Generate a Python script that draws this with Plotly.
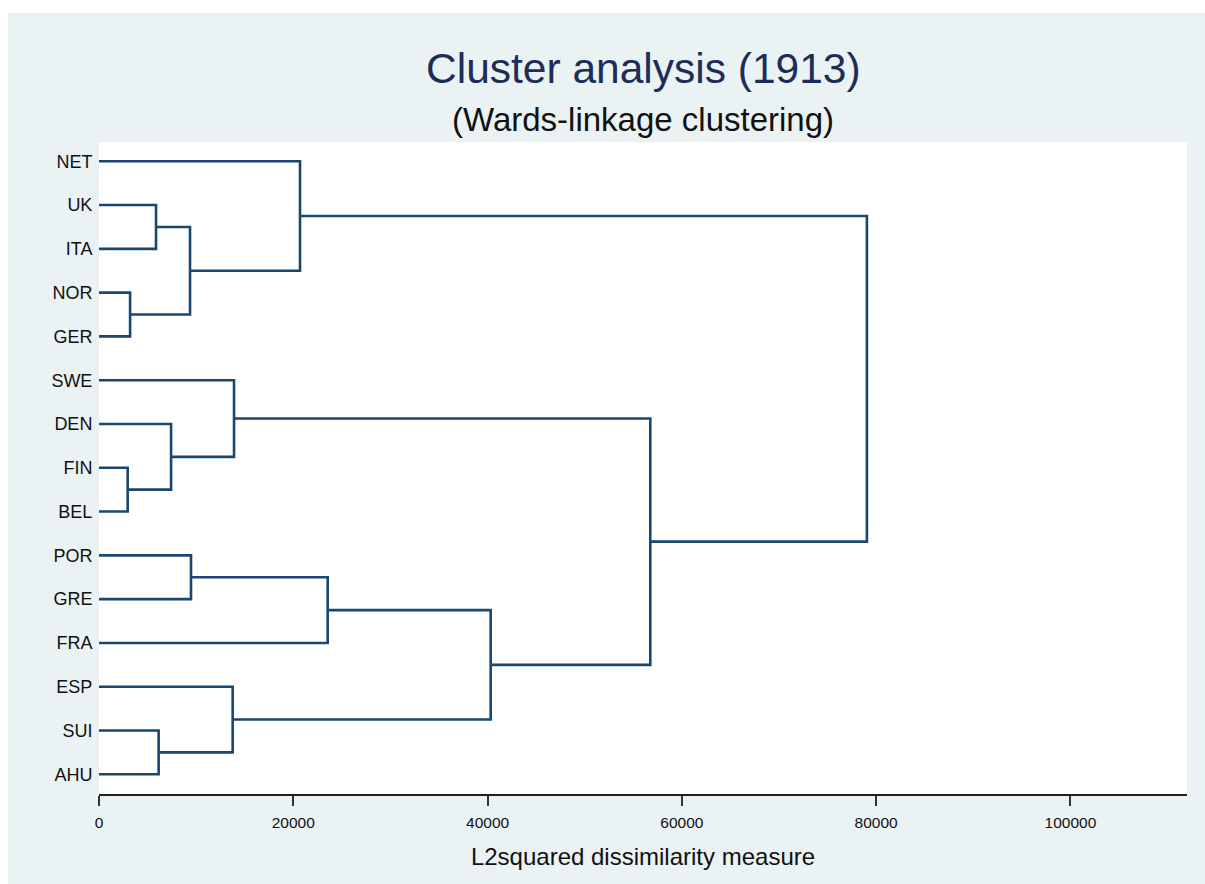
import plotly.graph_objects as go

# ---- data ----
leaf_labels = ["NET", "UK", "ITA", "NOR", "GER", "SWE", "DEN", "FIN", "BEL",
               "POR", "GRE", "FRA", "ESP", "SUI", "AHU"]
# merges (scipy-style: ids < 15 are leaves, id 15+k is the k-th merge)
merge_left = [7, 3, 1, 13, 6, 17, 9, 12, 5, 0, 21, 25, 23, 24]
merge_right = [8, 4, 2, 14, 15, 16, 10, 18, 19, 20, 11, 22, 26, 27]
merge_height = [2950, 3200, 5870, 6140, 7420, 9370, 9470, 13760, 13900,
                20690, 23540, 40320, 56750, 79050]
x_ticks = [0, 20000, 40000, 60000, 80000, 100000]

title_text = "Cluster analysis (1913)"
subtitle_text = "(Wards-linkage clustering)"
x_title = "L2squared dissimilarity measure"

# ---- build dendrogram paths ----
n = len(leaf_labels)
pos = {i: i + 1 for i in range(n)}
hgt = {i: 0.0 for i in range(n)}
xs, ys = [], []
for k, (a, b, h) in enumerate(zip(merge_left, merge_right, merge_height)):
    xs += [hgt[a], h, h, hgt[b], None]
    ys += [pos[a], pos[a], pos[b], pos[b], None]
    pos[n + k] = (pos[a] + pos[b]) / 2.0
    hgt[n + k] = h

navy = "#1a476f"
bg = "#eaf2f3"
font_family = "Liberation Sans, Arial, sans-serif"

fig = go.Figure()
fig.add_trace(go.Scatter(x=xs, y=ys, mode="lines",
                         line=dict(color=navy, width=2.6),
                         hoverinfo="skip", showlegend=False))

W, H = 1197, 871
ml, mt = 91, 129
plot_w, plot_h = 1088, 652
fig.update_layout(
    width=W, height=H,
    margin=dict(l=ml, r=W - ml - plot_w, t=mt, b=H - mt - plot_h, pad=0),
    paper_bgcolor=bg, plot_bgcolor="white",
    font=dict(family=font_family, color="#111111"),
    showlegend=False,
    xaxis=dict(range=[0, 112000], tickvals=x_ticks,
               ticktext=[str(v) for v in x_ticks],
               showgrid=False, zeroline=False,
               showline=True, linecolor="#222222", linewidth=1.6,
               ticks="outside", ticklen=10, tickwidth=1.6, tickcolor="#333333",
               ticklabelstandoff=4,
               tickfont=dict(size=15.5, color="#111111"),
               title=dict(text=x_title, font=dict(size=24, color="#111111"), standoff=18)),
    yaxis=dict(range=[15.45, 0.56], tickvals=list(range(1, n + 1)),
               ticktext=leaf_labels, showgrid=False, zeroline=False,
               showline=False, ticks="outside", ticklen=2,
               tickcolor="rgba(0,0,0,0)",
               tickfont=dict(size=18, color="#111111")),
    annotations=[
        dict(text=title_text, xref="paper", yref="paper", x=0.5, y=(794 - 68) / plot_h,
             xanchor="center", yanchor="middle", showarrow=False,
             font=dict(size=42.5, color="#1c2e57", family=font_family)),
        dict(text=subtitle_text, xref="paper", yref="paper", x=0.5, y=(794 - 119.5) / plot_h,
             xanchor="center", yanchor="middle", showarrow=False,
             font=dict(size=33, color="#111111", family=font_family)),
    ],
)

fig.write_html("out.html",
               post_script="document.body.style.margin='13px 0 0 8px';document.body.style.overflow='hidden';")
